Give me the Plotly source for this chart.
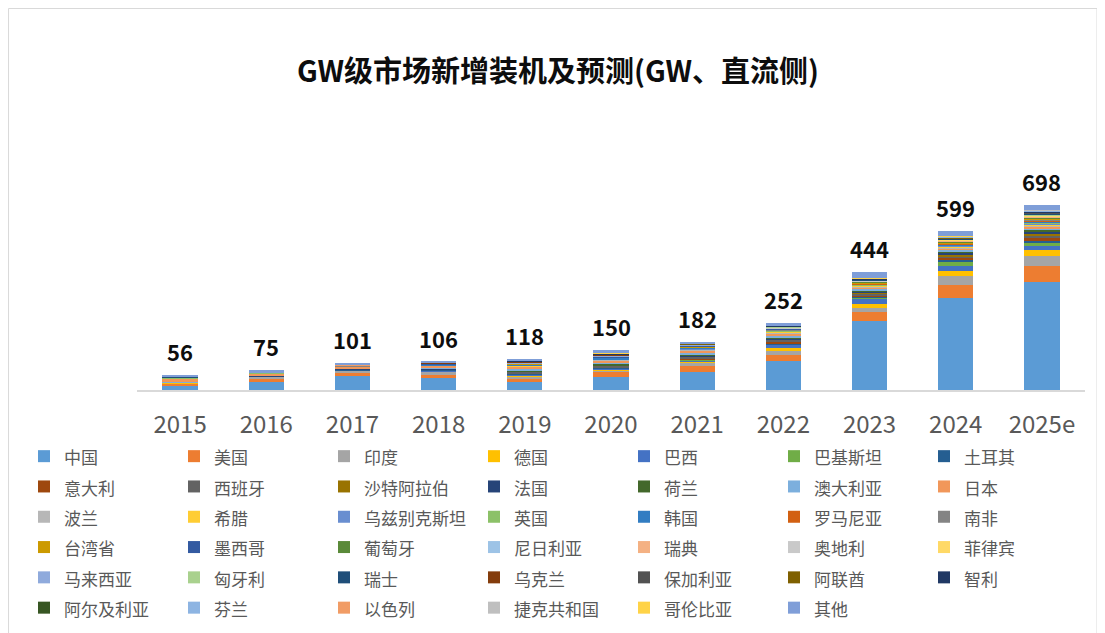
import plotly.graph_objects as go

years = ["2015", "2016", "2017", "2018", "2019", "2020", "2021", "2022", "2023", "2024", "2025e"]
totals = [56, 75, 101, 106, 118, 150, 182, 252, 444, 599, 698]

countries = ["中国", "美国", "印度", "德国", "巴西", "巴基斯坦", "土耳其",
             "意大利", "西班牙", "沙特阿拉伯", "法国", "荷兰", "澳大利亚", "日本",
             "波兰", "希腊", "乌兹别克斯坦", "英国", "韩国", "罗马尼亚", "南非",
             "台湾省", "墨西哥", "葡萄牙", "尼日利亚", "瑞典", "奥地利", "菲律宾",
             "马来西亚", "匈牙利", "瑞士", "乌克兰", "保加利亚", "阿联酋", "智利",
             "阿尔及利亚", "芬兰", "以色列", "捷克共和国", "哥伦比亚", "其他"]

colors = ["#5B9BD5", "#ED7D31", "#A5A5A5", "#FFC000", "#4472C4", "#70AD47", "#255E91",
          "#9E480E", "#636363", "#997300", "#264478", "#43682B", "#7CAFDD", "#F1975A",
          "#B7B7B7", "#FFCD33", "#698ED0", "#8CC168", "#327DC2", "#D26012", "#848484",
          "#CC9A00", "#335AA1", "#5A8A39", "#9DC3E6", "#F4B183", "#C9C9C9", "#FFD966",
          "#8FAADC", "#A9D18E", "#1F4E79", "#843C0C", "#525252", "#7F6000", "#203864",
          "#375623", "#8DB4E2", "#F19C65", "#BFBFBF", "#FFD347", "#7F9ED8"]

cn = [15, 32, 53, 44, 30, 50, 67, 108, 260, 348, 408]
us = [9, 13, 10.5, 14, 15, 20, 25, 25, 36, 49, 59]
india = [2, 5, 9, 10, 7.5, 4, 10, 16, 14, 35, 40]
de = [1.5, 1.5, 2, 3, 4, 5, 6, 9, 14, 17, 22]
br = [0, 0.1, 1, 1.5, 2, 3, 5, 14, 21, 20, 15]
pk = [0, 0, 0, 0.1, 0.2, 0.3, 0.5, 1, 3, 15, 10]
tr = [0.2, 0.6, 2.5, 5, 2, 2.5, 2, 3, 4, 8, 10]
it = [0.3, 0.4, 0.4, 0.5, 1.5, 1.4, 2, 4, 5, 7, 9]
es = [0, 0, 0.1, 0.3, 6, 5, 8, 10, 7, 7, 10]
sa = [0, 0, 0, 0.1, 0.1, 0.2, 0.3, 1, 3, 7, 9]
fr = [0.9, 0.6, 0.9, 1, 2.5, 2.5, 4, 4, 5, 6, 7]
nl = [0.4, 0.5, 0.8, 1.5, 4, 4.5, 5, 5, 5, 5, 6]
au = [0.9, 0.9, 1.3, 5, 6, 5, 6, 5, 5, 5, 6]
jp = [12, 8, 7, 7, 8, 9, 8, 7, 5, 5, 7]
pl = [0, 0, 0, 0.2, 1.5, 2.5, 5, 6, 4, 4, 5]
gr = [0, 0, 0, 0.1, 0.5, 1, 1, 1.7, 2, 3, 3]
uz = [0, 0, 0, 0, 0.1, 0.1, 0.1, 0.3, 1, 3, 3]
uk = [5, 2, 0.9, 0.3, 1.5, 0.8, 1, 3, 3, 3, 5]
kr = [1, 0.9, 1.2, 2, 4, 4.5, 4.5, 3, 3, 3, 3]
ro = [0, 0, 0, 0, 0.1, 0.1, 0.2, 0.5, 2, 2, 3]
za = [0.5, 0.5, 0.1, 0.3, 0.3, 0.5, 1, 1, 2, 2, 3]
tw = [0.2, 0.3, 0.5, 1, 1.5, 2, 2.5, 2.5, 2, 3, 3]
mx = [0, 0.1, 0.3, 3, 2.4, 2.5, 2.2, 2, 1, 2, 3]
pt = [0, 0, 0, 0.1, 0.2, 0.2, 0.5, 1, 2, 2, 2]
ng = [0, 0, 0, 0, 0.1, 0.1, 0.1, 0.2, 0.3, 1, 2]
se = [0, 0, 0, 0.2, 0.3, 0.5, 0.5, 1, 1, 2, 2]
at = [0, 0, 0, 0.2, 0.3, 0.5, 1, 1, 2, 2, 2]
ph = [0, 0, 0, 0.1, 0.3, 0.3, 0.5, 1, 1, 2, 2]
my = [0, 0, 0, 0.4, 0.5, 1, 1.5, 1, 1, 1, 2]
hu = [0, 0, 0, 0.4, 0.8, 1.5, 1, 1, 1, 1, 2]
ch = [0.3, 0.3, 0.3, 0.3, 0.3, 0.5, 0.7, 1, 1, 1, 2]
ua = [0, 0.1, 0.3, 1, 3.5, 2.5, 1, 0.5, 0.5, 1, 2]
bg = [0, 0, 0, 0, 0.1, 0.1, 0.3, 0.5, 1, 1, 2]
ae = [0, 0, 0.1, 0.5, 1.5, 2, 1, 1, 1, 2, 3]
cl = [0.4, 0.7, 0.7, 0.5, 1, 1, 1, 1.5, 1, 1, 2]
dz = [0, 0, 0.1, 0.1, 0.1, 0.1, 0.1, 0.2, 0.3, 1, 2]
fi = [0, 0, 0, 0.1, 0.1, 0.1, 0.2, 0.3, 0.6, 1, 1]
il = [0.2, 0.2, 0.3, 0.4, 1, 1, 1, 1, 1, 1, 2]
cz = [0, 0, 0, 0, 0.1, 0.1, 0.1, 0.5, 1, 1, 1]
co = [0, 0, 0, 0, 0.1, 0.1, 0.2, 0.3, 0.3, 1, 1]
other = [6.2, 7.3, 7.7, 1.8, 7, 12, 5, 7, 21, 18, 17]

series = [cn, us, india, de, br, pk, tr, it, es, sa, fr, nl, au, jp, pl, gr, uz, uk,
          kr, ro, za, tw, mx, pt, ng, se, at, ph, my, hu, ch, ua, bg, ae, cl, dz, fi,
          il, cz, co, other]

FONT = "Noto Sans CJK SC"

fig = go.Figure()
for name, color, vals in zip(countries, colors, series):
    fig.add_trace(go.Bar(
        x=years, y=vals,
        name='<span style="font-size:17px">' + name + '</span>',
        marker=dict(color=color, line=dict(width=0)),
    ))

annotations = []
for i, tot in enumerate(totals):
    annotations.append(dict(
        x=i, y=tot, xref="x", yref="y", text=str(tot), showarrow=False,
        yanchor="bottom", yshift=6,
        font=dict(family=FONT, size=22, color="#0D0D0D", weight="bold"),
    ))

fig.update_layout(
    width=1097, height=625,
    barmode="stack", bargap=0.59,
    paper_bgcolor="white", plot_bgcolor="white",
    margin=dict(l=129, r=20, t=112, b=243, autoexpand=False),
    title=dict(text="GW级市场新增装机及预测(GW、直流侧)", x=0.5014, xref="container",
               y=0.8976, yref="container", xanchor="center", yanchor="middle",
               font=dict(family=FONT, size=29, color="#0D0D0D", weight="bold")),
    xaxis=dict(type="category", showline=True, linecolor="#D9D9D9", linewidth=1.5,
               showgrid=False, ticks="", ticklabelstandoff=12, automargin=False,
               tickfont=dict(family=FONT, size=24, color="#595959")),
    yaxis=dict(visible=False, range=[0, 1020], showgrid=False, zeroline=False,
               automargin=False),
    legend=dict(orientation="h", traceorder="normal", x=-0.1192, xanchor="left",
                y=-0.1704, yanchor="top", entrywidth=105, entrywidthmode="pixels",
                font=dict(family=FONT, size=21, color="#595959"),
                bgcolor="rgba(0,0,0,0)"),
    annotations=annotations,
    shapes=[dict(type="rect", xref="paper", yref="paper", x0=-0.1355, x1=1.0127,
                 y0=-0.92, y1=1.413, line=dict(color="#D9D9D9", width=1),
                 fillcolor="rgba(0,0,0,0)", layer="below")],
    showlegend=True,
)

fig.write_html("out.html")
